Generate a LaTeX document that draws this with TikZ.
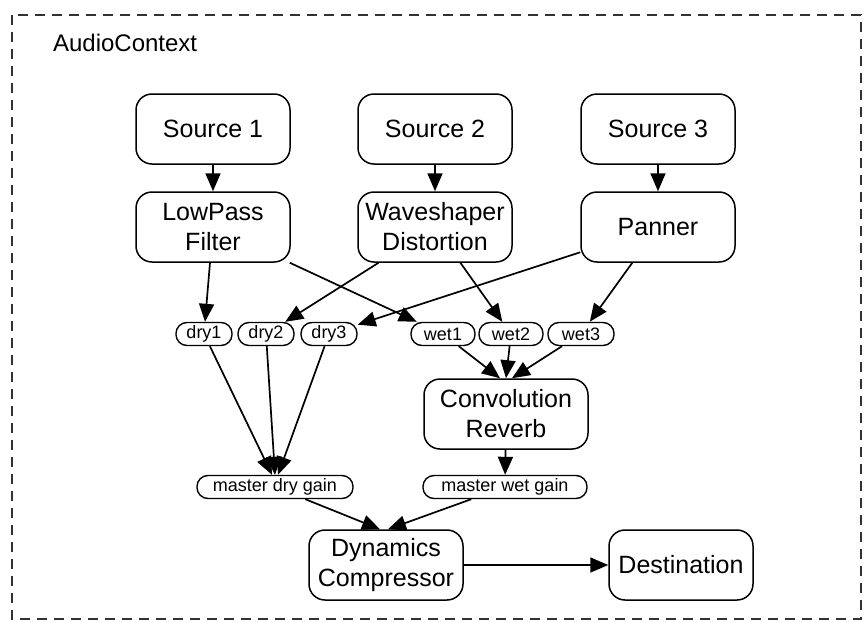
\documentclass[tikz,border=0pt]{standalone}
\usepackage{fontspec}
\setmainfont{Liberation Sans}
\usepackage{tikz}
\usetikzlibrary{shapes,arrows.meta,positioning,calc}
\definecolor{framegray}{RGB}{50,50,50}

\begin{document}
\begin{tikzpicture}[
    x=0.5pt, y=-0.5pt,
    box/.style={rectangle, draw, line width=0.75pt, rounded corners=8pt, minimum width=77pt, minimum height=35pt, align=center, font=\fontsize{12.5}{15}\selectfont},
    small/.style={rectangle, draw, line width=0.7pt, rounded corners=5.5pt, minimum height=11.5pt, inner sep=1pt, font=\fontsize{9}{10}\selectfont},
    arrow/.style={-{Triangle[length=9pt,width=7.5pt]}, line width=0.85pt}
]
    \useasboundingbox (0,0) rectangle (867,621);

    % AudioContext frame
    \draw[framegray, line width=0.65pt, dash pattern=on 5pt off 3.5pt] (12,15) rectangle (861,619);
    \node[anchor=west, font=\fontsize{12}{14}\selectfont] (ctx) at (46,43) {AudioContext};

    % Sources
    \node[box] (src1) at (213,129) {Source 1};
    \node[box] (src2) at (435,129) {Source 2};
    \node[box] (src3) at (658,129) {Source 3};

    % Effects
    \node[box] (lowpass) at (213,227) {LowPass\\Filter};
    \node[box] (shaper) at (435,227) {Waveshaper\\Distortion};
    \node[box] (panner) at (658,227) {Panner};

    % Dry and wet sends
    \node[small, minimum width=28pt] (dry1) at (204,334) {dry1};
    \node[small, minimum width=28pt] (dry2) at (266,334) {dry2};
    \node[small, minimum width=28pt] (dry3) at (329,334) {dry3};
    \node[small, minimum width=32pt] (wet1) at (443,334) {wet1};
    \node[small, minimum width=32pt] (wet2) at (511,334) {wet2};
    \node[small, minimum width=33pt] (wet3) at (581,334) {wet3};

    % Reverb
    \node[box, minimum width=82pt] (reverb) at (506,414) {Convolution\\Reverb};

    % Master gains
    \node[small, minimum width=78pt] (mdry) at (275,487) {master dry gain};
    \node[small, minimum width=82pt] (mwet) at (505,487) {master wet gain};

    % Output
    \node[box] (comp) at (386,565) {Dynamics\\Compressor};
    \node[box, minimum width=72pt] (dest) at (681,565) {Destination};

    % Arrows
    \draw[arrow] (src1) -- (lowpass);
    \draw[arrow] (src2) -- (shaper);
    \draw[arrow] (src3) -- (panner);
    \draw[arrow] (lowpass) -- (dry1);
    \draw[arrow] (lowpass) -- (wet1);
    \draw[arrow] (shaper) -- (dry2);
    \draw[arrow] (shaper) -- (wet2);
    \draw[arrow] (panner) -- (dry3);
    \draw[arrow] (panner) -- (wet3);
    \draw[arrow] (dry1) -- ([xshift=-1.5pt]mdry.north);
    \draw[arrow] (dry2) -- (mdry.north);
    \draw[arrow] (dry3) -- ([xshift=1.5pt]mdry.north);
    \draw[arrow] (wet1) -- ([xshift=-3pt]reverb.north);
    \draw[arrow] (wet2) -- (reverb.north);
    \draw[arrow] (wet3) -- ([xshift=3pt]reverb.north);
    \draw[arrow] (reverb) -- (mwet);
    \draw[arrow] (mdry) -- ([xshift=-3pt]comp.north);
    \draw[arrow] (mwet) -- ([xshift=1pt]comp.north);
    \draw[arrow] (comp) -- (dest);
\end{tikzpicture}
\end{document}
